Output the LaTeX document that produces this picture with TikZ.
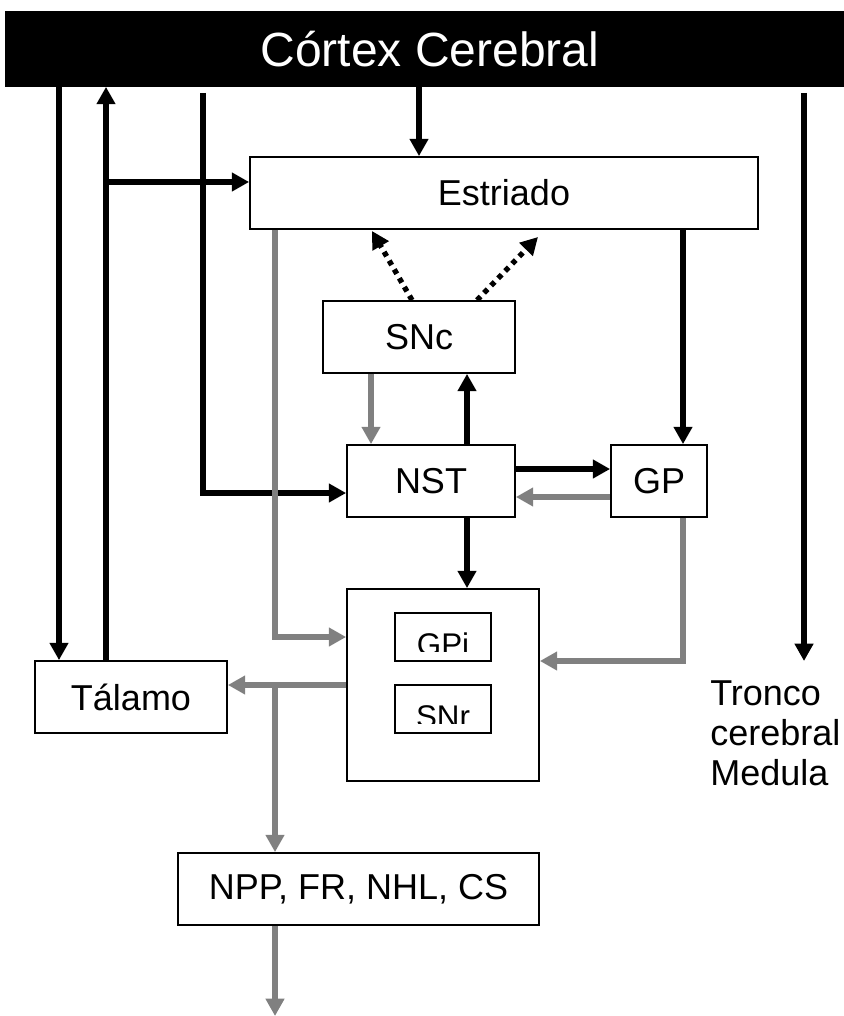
\documentclass[tikz,border=0pt]{standalone}
\usepackage{fontspec}
\setmainfont{Liberation Sans}
\usetikzlibrary{arrows.meta}
\definecolor{gline}{RGB}{128,128,128}
\begin{document}
\begin{tikzpicture}[x=0.75pt,y=-0.75pt,
  box/.style={draw=black,line width=1.3pt,fill=white,inner sep=0pt,font=\fontsize{27}{32}\selectfont},
  sz/.style 2 args={minimum width=#1*0.75pt,minimum height=#2*0.75pt},
  lbl/.style={font=\fontsize{27}{30}\selectfont,inner sep=0pt},
  smalltxt/.style={font=\fontsize{23.5}{28}\selectfont,inner sep=0pt},
  headtip/.style={-{Triangle[length=13pt,width=13.5pt]}},
  blk/.style={draw=black,line width=4pt,headtip},
  gry/.style={draw=gline,line width=4pt,headtip},
  dotarrow/.style={draw=black,line width=4pt,dash pattern=on 3.8pt off 3.8pt,headtip}
]
\useasboundingbox (0,0) rectangle (843,1016);

% nodes
\node[box,fill=black,text=white,font=\fontsize{36}{40}\selectfont,sz={837}{74}] (cortex) at (424.5,49) {\hspace*{8pt}Córtex Cerebral};
\node[box,sz={508}{72}] (estriado) at (504,193) {Estriado};
\node[box,sz={192}{72}] (snc) at (419,337) {SNc};
\node[box,sz={168}{72}] (nst) at (431,481) {NST};
\node[box,sz={96}{72}] (gp) at (659,481) {GP};
\node[box,sz={192}{192}] (big) at (443,685) {};
\node[box,sz={96}{48}] (gpi) at (443,637) {};
\node[box,sz={96}{48}] (snr) at (443,709) {};
\node[box,sz={192}{72}] (talamo) at (131,697) {Tálamo};
\node[box,sz={361}{72}] (npp) at (358.5,889) {NPP, FR, NHL, CS};
\node[lbl,align=left,anchor=north west] (tronco) at (710,680) {Tronco\\cerebral\\Medula};

\begin{scope}
\clip (395,613) rectangle (491,651);
\node[smalltxt,anchor=base] (gpitxt) at (443,655) {GPi};
\end{scope}
\begin{scope}
\clip (395,685) rectangle (491,723);
\node[smalltxt,anchor=base] (snrtxt) at (443,727) {SNr};
\end{scope}

% helper coordinates
\coordinate (x59) at (59,0);
\coordinate (x106) at (106,0);
\coordinate (x419) at (419,0);
\coordinate (x683) at (683,0);
\coordinate (x275) at (275,0);
\coordinate (x371) at (371,0);
\coordinate (x467) at (467,0);
\coordinate (x412) at (412,0);
\coordinate (x477) at (477,0);
\coordinate (y469) at (0,469);
\coordinate (y497) at (0,497);
\coordinate (y685) at (0,685);
\coordinate (y637) at (0,637);
\coordinate (y661) at (0,661);
\coordinate (y493) at (0,493);
\coordinate (j1) at (106,182);
\coordinate (s1) at (203,93);
\coordinate (s2) at (804,93);
\coordinate (e2) at (804,661);
\coordinate (j2) at (275,685);
\coordinate (e3) at (275,1016);
\coordinate (d1) at (372,231);
\coordinate (d2) at (538,237);

% connectors
\draw[blk] (cortex.south -| x419) -- (estriado.north -| x419);
\draw[blk] (cortex.south -| x59) -- (talamo.north -| x59);
\draw[blk] (talamo.north -| x106) -- (cortex.south -| x106);
\draw[blk] (j1) -- (estriado.west |- j1);
\draw[blk] (s1) |- (nst.west |- y493);
\draw[blk] (s2) -- (e2);
\draw[blk] (estriado.south -| x683) -- (gp.north -| x683);
\draw[gry] (estriado.south -| x275) |- (big.west |- y637);
\draw[dotarrow] (snc.north -| x412) -- (d1);
\draw[dotarrow] (snc.north -| x477) -- (d2);
\draw[gry] (snc.south -| x371) -- (nst.north -| x371);
\draw[blk] (nst.north -| x467) -- (snc.south -| x467);
\draw[blk] (nst.east |- y469) -- (gp.west |- y469);
\draw[gry] (gp.west |- y497) -- (nst.east |- y497);
\draw[blk] (nst.south -| x467) -- (big.north -| x467);
\draw[gry] (gp.south -| x683) |- (big.east |- y661);
\draw[gry] (big.west |- y685) -- (talamo.east |- y685);
\draw[gry] (j2) -- (npp.north -| x275);
\draw[gry] (npp.south -| x275) -- (e3);
\end{tikzpicture}
\end{document}
